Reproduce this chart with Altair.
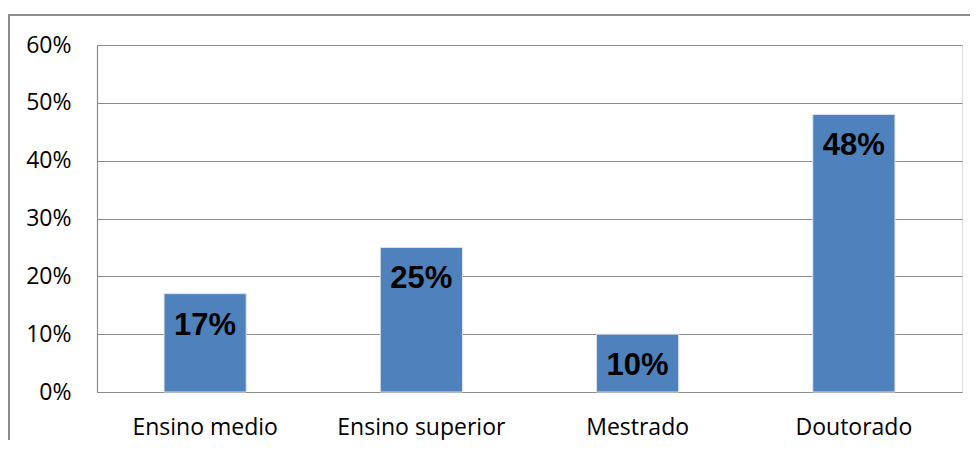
import altair as alt
import pandas as pd

categories = ["Ensino medio", "Ensino superior", "Mestrado", "Doutorado"]
values = [0.17, 0.25, 0.10, 0.48]
labels = ["17%", "25%", "10%", "48%"]

df = pd.DataFrame({"cat": categories, "val": values, "lab": labels})

x = alt.X("cat:N", sort=categories, title=None,
          scale=alt.Scale(paddingInner=0.62, paddingOuter=0.31),
          axis=alt.Axis(labelAngle=0, ticks=False, labelFont="Open Sans", labelFontSize=23,
                        labelColor="#000000", labelPadding=24, domainColor="#8c8c8c",
                        domainWidth=1.2))
y = alt.Y("val:Q", title=None,
          scale=alt.Scale(domain=[0, 0.6]),
          axis=alt.Axis(format=".0%", values=[0, 0.1, 0.2, 0.3, 0.4, 0.5, 0.6], ticks=False,
                        labelFont="Open Sans", labelFontSize=23, labelColor="#000000",
                        labelPadding=26, gridColor="#8c8c8c", gridWidth=1.2,
                        domainColor="#8c8c8c", domainWidth=1.2))

frame = alt.Chart(df).mark_rect(fill=None, stroke="#8c8c8c", strokeWidth=1.5).encode(
    x=alt.value(-88), x2=alt.value(1000), y=alt.value(-30), y2=alt.value(480)
)

bars = alt.Chart(df).mark_bar(color="#4F81BD", stroke="#dbe3ee", strokeWidth=1).encode(x=x, y=y)

text = alt.Chart(df).mark_text(font="Liberation Sans", fontWeight="bold", fontSize=31,
                               color="#000000", baseline="alphabetic", dy=41).encode(
    x=alt.X("cat:N", sort=categories), y="val:Q", text="lab:N")

chart = alt.layer(frame, bars, text).properties(
    width=865, height=347,
    autosize=alt.AutoSizeParams(type="none"),
    padding={"left": 89, "top": 37, "right": 8, "bottom": 48},
).configure_view(stroke=None).configure(background="white")

chart.save("out.html", embed_options={"renderer": "svg", "actions": False})
